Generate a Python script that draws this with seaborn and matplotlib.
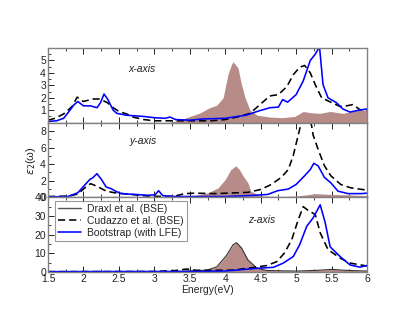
import numpy as np
import matplotlib
matplotlib.use('Agg')
import matplotlib.pyplot as plt
import seaborn as sns
from matplotlib.ticker import MultipleLocator, FuncFormatter
from matplotlib.lines import Line2D

# ---- x-axis panel ----
x_draxl_e = [1.5, 3.2, 3.36, 3.5, 3.64, 3.78, 3.88, 3.97, 4.04, 4.09, 4.11, 4.18, 4.23, 4.28, 4.35,
             4.45, 4.63, 4.8, 4.98, 5.1, 5.2, 5.34, 5.48, 5.66, 5.86, 6.0]
x_draxl = [0.0, 0.0, 0.2, 0.5, 0.77, 1.2, 1.4, 2.0, 3.9, 4.7, 4.9, 4.4, 3.05, 2.0, 1.0,
           0.6, 0.45, 0.4, 0.5, 0.9, 0.8, 0.75, 0.9, 0.75, 1.0, 1.0]
x_cud_e = [1.5, 1.6, 1.72, 1.84, 1.91, 2.0, 2.13, 2.23, 2.34, 2.42, 2.5, 2.61, 2.7, 2.85, 3.0,
           3.4, 3.8, 4.0, 4.17, 4.35, 4.49, 4.63, 4.75, 4.87, 4.96, 5.05, 5.12, 5.2, 5.27, 5.36,
           5.45, 5.62, 5.71, 5.8, 5.9, 6.0]
x_cud = [0.2, 0.35, 0.7, 1.3, 2.05, 1.7, 1.9, 1.9, 1.6, 1.2, 0.9, 0.7, 0.45, 0.25, 0.15,
         0.15, 0.15, 0.25, 0.45, 0.75, 1.45, 2.15, 2.25, 2.9, 3.85, 4.45, 4.6, 4.0, 3.05, 2.0,
         1.75, 1.3, 1.35, 1.45, 1.05, 1.0]
x_boot_e = [1.5, 1.62, 1.72, 1.81, 1.86, 1.92, 2.0, 2.1, 2.19, 2.24, 2.29, 2.34, 2.42, 2.47, 2.6,
            2.85, 3.0, 3.15, 3.22, 3.3, 3.5, 3.69, 4.0, 4.17, 4.3, 4.45, 4.63, 4.75, 4.81, 4.88,
            5.0, 5.1, 5.2, 5.27, 5.33, 5.38, 5.45, 5.57, 5.66, 5.76, 5.88, 6.0]
x_boot = [0.1, 0.15, 0.35, 1.0, 1.4, 1.7, 1.35, 1.35, 1.2, 1.6, 2.3, 1.9, 1.0, 0.75, 0.6,
          0.5, 0.4, 0.35, 0.45, 0.25, 0.2, 0.3, 0.35, 0.5, 0.6, 0.9, 1.2, 1.25, 1.85, 1.65,
          2.25, 3.35, 5.0, 5.5, 6.1, 3.05, 2.0, 1.6, 1.1, 0.85, 1.0, 1.1]

# ---- y-axis panel ----
y_draxl_e = [1.5, 3.3, 3.5, 3.62, 3.76, 3.9, 4.0, 4.08, 4.15, 4.2, 4.25, 4.32, 4.36, 4.5,
             4.8, 5.0, 5.15, 5.27, 5.5, 5.75, 6.0]
y_draxl = [0.0, 0.0, 0.15, 0.3, 0.55, 1.15, 2.15, 3.35, 3.8, 3.35, 2.6, 1.75, 0.75, 0.15,
           0.1, 0.15, 0.3, 0.45, 0.35, 0.3, 0.2]
y_cud_e = [1.5, 1.8, 1.92, 2.02, 2.1, 2.2, 2.32, 2.44, 2.67, 2.91, 3.19, 3.29, 3.43, 3.57,
           3.86, 4.32, 4.5, 4.65, 4.79, 4.89, 4.96, 5.03, 5.13, 5.22, 5.24, 5.31, 5.4, 5.49,
           5.63, 5.77, 5.97, 6.0]
y_cud = [0.1, 0.15, 0.4, 1.15, 1.65, 1.3, 0.75, 0.55, 0.35, 0.15, 0.1, 0.15, 0.45, 0.5,
         0.45, 0.6, 0.95, 1.55, 2.4, 3.35, 5.05, 7.5, 11.0, 8.6, 7.5, 5.8, 3.8, 2.6,
         1.55, 1.15, 0.9, 0.85]
y_boot_e = [1.5, 1.78, 1.92, 2.02, 2.09, 2.13, 2.19, 2.25, 2.32, 2.39, 2.44, 2.53, 2.73, 2.91,
            3.01, 3.06, 3.12, 3.29, 4.0, 4.32, 4.6, 4.74, 4.89, 5.0, 5.12, 5.2, 5.25, 5.31,
            5.4, 5.49, 5.59, 5.73, 5.92, 6.0]
y_boot = [0.05, 0.1, 0.55, 1.5, 2.15, 2.35, 2.85, 2.2, 1.25, 1.05, 0.8, 0.45, 0.35, 0.25,
          0.3, 0.8, 0.2, 0.1, 0.1, 0.2, 0.35, 0.8, 1.0, 1.55, 2.6, 3.35, 4.1, 3.8,
          2.4, 1.75, 0.75, 0.45, 0.45, 0.5]

# ---- z-axis panel ----
z_draxl_e = [1.5, 3.3, 3.5, 3.74, 3.88, 4.02, 4.11, 4.16, 4.23, 4.32, 4.45, 4.59, 5.0,
             5.3, 5.5, 5.7, 6.0]
z_draxl = [0.0, 0.2, 0.6, 1.0, 2.7, 9.0, 14.6, 15.7, 12.9, 6.5, 2.0, 0.8, 0.5,
           0.9, 1.4, 0.9, 0.5]
z_cud_e = [1.5, 3.0, 3.3, 3.46, 3.6, 4.11, 4.45, 4.59, 4.73, 4.84, 4.94, 5.03, 5.1, 5.17,
           5.27, 5.34, 5.45, 5.62, 5.76, 6.0]
z_cud = [0.2, 0.3, 0.8, 1.6, 0.9, 1.0, 2.7, 3.5, 5.6, 10.4, 17.5, 28.0, 35.0, 33.0,
         30.8, 21.0, 12.0, 7.5, 4.8, 3.2]
z_boot_e = [1.5, 3.5, 4.0, 4.45, 4.68, 4.82, 4.96, 5.05, 5.15, 5.24, 5.34, 5.41, 5.48, 5.62,
            5.76, 5.9, 6.0]
z_boot = [0.2, 0.3, 0.5, 2.0, 2.5, 4.8, 8.3, 14.6, 24.5, 29.0, 36.0, 26.5, 13.5, 8.3,
          3.8, 2.6, 3.5]

fill_color = '#b78b88'
panel_names = ['x-axis', 'y-axis', 'z-axis']
panels = [
    (x_draxl_e, x_draxl, x_cud_e, x_cud, x_boot_e, x_boot),
    (y_draxl_e, y_draxl, y_cud_e, y_cud, y_boot_e, y_boot),
    (z_draxl_e, z_draxl, z_cud_e, z_cud, z_boot_e, z_boot),
]
ylims = [(0, 6), (0, 9), (0, 40)]
ymajor = [[1, 2, 3, 4, 5], [0, 2, 4, 6, 8], [0, 10, 20, 30, 40]]
yminor = [0.5, 1, 5]
label_pos = [(0.295, 0.72), (0.30, 0.75), (0.67, 0.69)]

sns.set_style('ticks')
plt.rcParams['font.family'] = ['Liberation Sans', 'DejaVu Sans']
plt.rcParams['font.size'] = 7.5
plt.rcParams['mathtext.fontset'] = 'dejavusans'

fig = plt.figure(figsize=(4.15, 3.21), dpi=100)
gs = fig.add_gridspec(3, 1, left=0.1157, right=0.8843, top=0.8505, bottom=0.1526, hspace=0)
axes = [fig.add_subplot(gs[i]) for i in range(3)]

for i, ax in enumerate(axes):
    de, dv, ce, cv, be, bv = panels[i]
    ax.fill_between(de, dv, 0, color=fill_color, lw=0)
    if i == 2:
        ax.plot(de, dv, color='#333333', lw=0.8)
    sns.lineplot(x=ce, y=cv, ax=ax, color='black', lw=1.15, errorbar=None, sort=False)
    ax.lines[-1].set_dashes((4.5, 2.5))
    sns.lineplot(x=be, y=bv, ax=ax, color='#0000ff', lw=1.15, errorbar=None, sort=False)
    ax.set_xlim(1.5, 6)
    ax.set_ylim(*ylims[i])
    ax.set_yticks(ymajor[i])
    ax.yaxis.set_minor_locator(MultipleLocator(yminor[i]))
    ax.xaxis.set_major_locator(MultipleLocator(0.5))
    ax.xaxis.set_minor_locator(MultipleLocator(0.25))
    ax.tick_params(which='both', direction='in', top=True, right=False, colors='#222222',
                   labelsize=7.5, pad=1.5)
    ax.tick_params(which='major', length=4, width=0.7)
    ax.tick_params(which='minor', length=2.5, width=0.6)
    for s in ax.spines.values():
        s.set_color('#808080')
        s.set_linewidth(1.0)
    ax.set_xlabel('')
    ax.set_ylabel('')
    ax.text(label_pos[i][0], label_pos[i][1], panel_names[i], transform=ax.transAxes,
            ha='center', va='center', style='italic', fontsize=7.5, color='#222222')
    if i < 2:
        ax.tick_params(labelbottom=False)

axes[2].xaxis.set_major_formatter(FuncFormatter(lambda v, p: '%g' % v))
axes[2].set_xlabel('Energy(eV)', fontsize=7.5, labelpad=0.5)

# legend
handles = [Line2D([], [], color='#555555', lw=1.0),
           Line2D([], [], color='black', lw=1.15, dashes=(4.5, 2.5)),
           Line2D([], [], color='#0000ff', lw=1.15)]
leg = axes[2].legend(handles, ['Draxl et al. (BSE)', 'Cudazzo et al. (BSE)', 'Bootstrap (with LFE)'],
                     loc='upper left', bbox_to_anchor=(0.015, 0.985), fontsize=7.5, frameon=True,
                     fancybox=False, borderpad=0.3, labelspacing=0.2, handlelength=2.2,
                     handletextpad=0.6, borderaxespad=0.2)
leg.get_frame().set_edgecolor('#808080')
leg.get_frame().set_linewidth(0.8)

fig.text(0.075, 0.50, r'$\epsilon_2$' + '(ω)', rotation=90, ha='center', va='center',
         fontsize=8, color='#222222')

fig.savefig('out.png', dpi=100)
